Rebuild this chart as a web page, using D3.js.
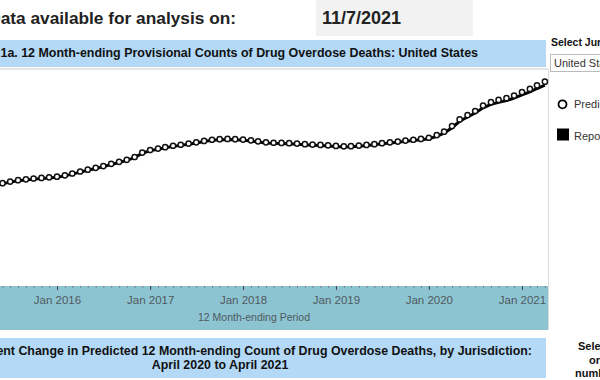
<!DOCTYPE html>
<html>
<head>
<meta charset="utf-8">
<script src="https://cdn.jsdelivr.net/npm/d3@7"></script>
<style>
  body { margin: 0; background: #fff; }
  svg { display: block; font-family: Arial, "Liberation Sans", sans-serif; }
</style>
</head>
<body>
<div id="chart"></div>
<script>
// 12 month-ending periods, Jan 2015 .. Apr 2021
var startMonth = new Date(2015, 0, 1);
var predicted = [
  47000, 47400, 47800, 48300, 48900, 49700, 50500, 51200, 51600, 52000, 52300, 52600,
  52900, 53600, 54500, 55500, 56400, 57300, 58200, 59300, 60300, 61300, 62700, 64900,
  66200, 66900, 67600, 68300, 68800, 69400, 70000, 70700, 71300, 71600, 71700, 71600,
  71400, 71000, 70500, 70000, 69800, 69700, 69600, 69400, 69100, 68900, 68700, 68500,
  68200, 68000, 68100, 68400, 68700, 69100, 69600, 70000, 70400, 70900, 71300, 71700,
  72300, 73600, 75300, 78100, 81400, 83600, 85600, 88300, 90000, 91100, 92000, 93300,
  95000, 96600, 98400, 100200
];
var reported = [
  46700, 47100, 47500, 48000, 48600, 49400, 50200, 50900, 51300, 51700, 52000, 52300,
  52600, 53300, 54200, 55200, 56100, 57000, 57900, 59000, 60000, 61000, 62400, 64600,
  65900, 66600, 67300, 68000, 68500, 69100, 69700, 70400, 71000, 71300, 71400, 71300,
  71100, 70700, 70200, 69700, 69500, 69400, 69300, 69100, 68800, 68600, 68400, 68200,
  67900, 67700, 67800, 68100, 68400, 68800, 69300, 69700, 70100, 70500, 70900, 71300,
  71800, 73000, 74600, 77300, 80500, 82600, 84600, 87200, 88900, 89900, 90800, 92000,
  93600, 95100, 96800, 98500
];
var tickYears = [2015, 2016, 2017, 2018, 2019, 2020, 2021];
var legendLabels = ["Predicted Value", "Reported Value"];

var W = 600, H = 380;
var svg = d3.select("#chart").append("svg")
  .attr("width", W).attr("height", H);

var months = predicted.map(function (d, i) {
  return d3.timeMonth.offset(startMonth, i);
});

// scales
var x = d3.scaleTime()
  .domain([new Date(2016, 0, 1), new Date(2021, 0, 1)])
  .range([57, 522]);
var y = d3.scaleLinear()
  .domain([0, 108000])
  .range([283, 66]);

// header
svg.append("rect").attr("x", 316).attr("y", 0).attr("width", 157).attr("height", 36)
  .attr("fill", "#f2f2f2");
svg.append("text").attr("x", 236).attr("y", 24)
  .attr("text-anchor", "end")
  .style("font-size", "17.3px").style("font-weight", "bold").attr("fill", "#222")
  .text("Data available for analysis on:");
svg.append("text").attr("x", 322).attr("y", 24)
  .style("font-size", "18px").style("font-weight", "bold").attr("fill", "#222")
  .text("11/7/2021");

// title bar
svg.append("rect").attr("x", 0).attr("y", 40).attr("width", 546).attr("height", 27)
  .attr("fill", "#b3d9f7");
svg.append("text").attr("x", 478).attr("y", 57)
  .attr("text-anchor", "end")
  .style("font-size", "12.45px").style("font-weight", "bold").attr("fill", "#111")
  .text("Figure 1a. 12 Month-ending Provisional Counts of Drug Overdose Deaths: United States");
svg.append("line").attr("x1", 0).attr("x2", 548).attr("y1", 69).attr("y2", 69)
  .attr("stroke", "#dcdcdc").attr("stroke-width", 1.5);
svg.append("line").attr("x1", 548.5).attr("x2", 548.5).attr("y1", 69).attr("y2", 330)
  .attr("stroke", "#dcdcdc").attr("stroke-width", 1);

// x axis band
svg.append("rect").attr("x", 0).attr("y", 286).attr("width", 548).attr("height", 44)
  .attr("fill", "#8dc4d2");

var minorAxis = svg.append("g").attr("transform", "translate(0,286)")
  .call(d3.axisBottom(x)
    .tickValues(d3.timeMonth.range(new Date(2014, 6, 1), new Date(2021, 4, 1)))
    .tickSize(1.5).tickFormat(""));
minorAxis.select(".domain").remove();
minorAxis.selectAll("line").attr("stroke", "#666");

var majorAxis = svg.append("g").attr("transform", "translate(0,286)")
  .call(d3.axisBottom(x)
    .tickValues(tickYears.map(function (yr) { return new Date(yr, 0, 1); }))
    .tickSize(4).tickPadding(6)
    .tickFormat(d3.timeFormat("Jan %Y")));
majorAxis.select(".domain").remove();
majorAxis.selectAll("line").attr("stroke", "#444");
majorAxis.selectAll("text").attr("fill", "#4f5a5e")
  .style("font-size", "11.5px").style("font-family", "Arial, 'Liberation Sans', sans-serif");

svg.append("text").attr("x", 254).attr("y", 321)
  .attr("text-anchor", "middle")
  .style("font-size", "10.5px").attr("fill", "#4f5a5e")
  .text("12 Month-ending Period");

// reported line + predicted points
var plot = svg.append("g");
plot.append("path")
  .datum(reported)
  .attr("d", d3.line()
    .x(function (d, i) { return x(months[i]); })
    .y(function (d) { return y(d); }))
  .attr("fill", "none")
  .attr("stroke", "#000")
  .attr("stroke-width", 3);

plot.selectAll(".pt")
  .data(predicted)
  .enter().append("circle")
  .attr("class", "pt")
  .attr("cx", function (d, i) { return x(months[i]); })
  .attr("cy", function (d) { return y(d); })
  .attr("r", 2.6)
  .attr("fill", "#fff")
  .attr("stroke", "#111")
  .attr("stroke-width", 1.5);

// right panel
svg.append("text").attr("x", 551).attr("y", 46)
  .style("font-size", "10.5px").style("font-weight", "bold").attr("fill", "#111")
  .text("Select Jurisdiction");
svg.append("rect").attr("x", 550.5).attr("y", 54.5).attr("width", 60).attr("height", 17)
  .attr("fill", "#fff").attr("stroke", "#bbb");
svg.append("text").attr("x", 554).attr("y", 67)
  .style("font-size", "11px").attr("fill", "#333")
  .text("United States");

var legend = svg.selectAll(".legend").data(legendLabels)
  .enter().append("g").attr("class", "legend")
  .attr("transform", function (d, i) { return "translate(0," + (i * 32) + ")"; });
legend.append("text").attr("x", 574).attr("y", 108)
  .style("font-size", "11px").attr("fill", "#333")
  .text(function (d) { return d; });
legend.filter(function (d, i) { return i === 0; })
  .append("circle").attr("cx", 562.5).attr("cy", 104.3).attr("r", 4)
  .attr("fill", "#fff").attr("stroke", "#000").attr("stroke-width", 1.8);
legend.filter(function (d, i) { return i === 1; })
  .append("rect").attr("x", 557).attr("y", 96.5).attr("width", 12).attr("height", 12)
  .attr("fill", "#000");

// bottom title bar
svg.append("rect").attr("x", 0).attr("y", 338).attr("width", 546).attr("height", 40)
  .attr("fill", "#b3d9f7");
svg.append("text").attr("x", 532).attr("y", 355)
  .attr("text-anchor", "end")
  .style("font-size", "12.4px").style("font-weight", "bold").attr("fill", "#111")
  .text("Figure 1b. Percent Change in Predicted 12 Month-ending Count of Drug Overdose Deaths, by Jurisdiction:");
svg.append("text").attr("x", 220).attr("y", 369)
  .attr("text-anchor", "middle")
  .style("font-size", "12.4px").style("font-weight", "bold").attr("fill", "#111")
  .text("April 2020 to April 2021");

var side = ["Select", "one", "number"];
var sideX = [578, 589, 575];
svg.selectAll(".side").data(side)
  .enter().append("text").attr("class", "side")
  .attr("x", function (d, i) { return sideX[i]; })
  .attr("y", function (d, i) { return 350 + i * 13.5; })
  .style("font-size", "11px").style("font-weight", "bold").attr("fill", "#111")
  .text(function (d) { return d; });
</script>
</body>
</html>
